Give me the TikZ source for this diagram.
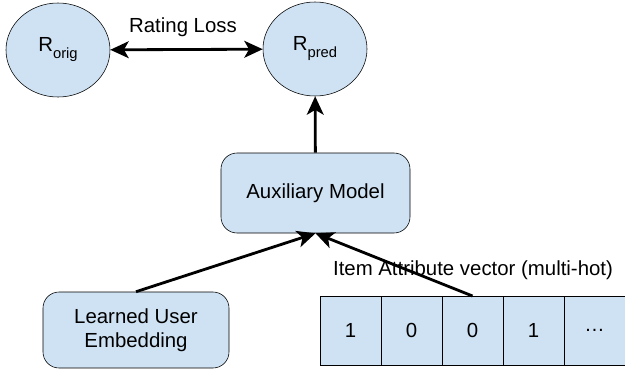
\documentclass[tikz,border=0pt]{standalone}
\usepackage{fontspec}
\setmainfont{Liberation Sans}
\usetikzlibrary{arrows.meta,positioning,shapes.geometric}
\definecolor{cellblue}{HTML}{CFE2F3}

\begin{document}
\begin{tikzpicture}[
		font=\fontsize{14.5}{17}\selectfont,
		blob/.style={ellipse, draw, fill=cellblue, minimum width=2.6cm, minimum height=2.35cm, inner sep=0pt},
		rbox/.style={rectangle, rounded corners=0.4cm, draw, fill=cellblue, align=center},
		cell/.style={rectangle, draw, fill=cellblue, minimum width=1.525cm, minimum height=1.725cm, inner sep=0pt, outer sep=0pt},
		link/.style={-{Stealth[length=0.46cm,width=0.42cm,inset=0.12cm]}, line width=2pt},
		twoway/.style={{Stealth[length=0.46cm,width=0.42cm,inset=0.12cm]}-{Stealth[length=0.46cm,width=0.42cm,inset=0.12cm]}, line width=2pt}
	]
		\useasboundingbox (0,0) rectangle (15.625,9.225);
		\node at (1.45,7.975) [blob] (Rorig) {R\raisebox{-5pt}{\fontsize{10.5}{12}\selectfont orig}};
		\node at (7.875,8.0) [blob] (Rpred) {R\raisebox{-5pt}{\fontsize{10.5}{12}\selectfont pred}};
		\node at (4.575,8.55) (loss) {Rating Loss};
		\node at (7.8875,4.4) [rbox, minimum width=4.725cm, minimum height=2cm] (aux) {Auxiliary Model};
		\node at (3.4,0.975) [rbox, minimum width=4.65cm, minimum height=1.9cm] (user) {Learned User\\Embedding};
		% attribute vector
		\node at (8.7625,0.9625) [cell] (c1) {1};
		\node [cell, right=0pt of c1] (c2) {0};
		\node [cell, right=0pt of c2] (c3) {0};
		\node [cell, right=0pt of c3] (c4) {1};
		\node [cell, right=0pt of c4] (c5) {\dots};
		\node at (11.825,2.475) (itemlbl) {Item Attribute vector (multi-hot)};
		\draw [twoway] (Rorig) -- (Rpred);
		\draw [link] (aux) -- (Rpred);
		\draw [link] (user.north) -- (aux.south);
		\draw [link] (c3.north) -- (aux.south);
\end{tikzpicture}
\end{document}
